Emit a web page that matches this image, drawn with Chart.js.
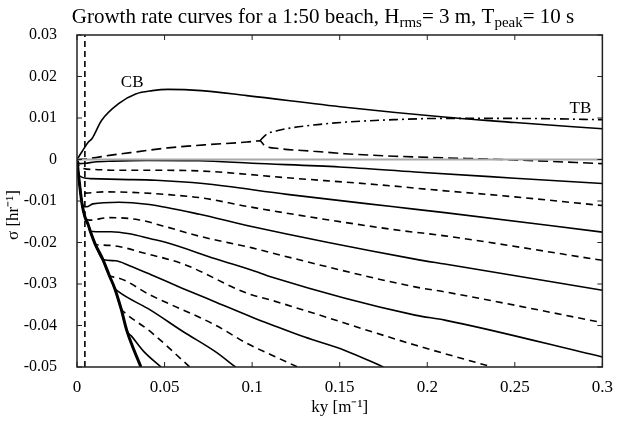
<!DOCTYPE html>
<html><head><meta charset="utf-8">
<script src="https://cdn.jsdelivr.net/npm/chart.js@4"></script>
<style>html,body{margin:0;padding:0;background:#fff}#wrap{width:623px;height:421px}</style>
</head><body><div id="wrap"><canvas id="c" width="623" height="421"></canvas></div>
<script>
// ---- tick values / labels ----
const xTicks = [0, 0.05, 0.1, 0.15, 0.2, 0.25, 0.3];
const xTickLabels = ['0', '0.05', '0.1', '0.15', '0.2', '0.25', '0.3'];
const yTicks = [0.03, 0.02, 0.01, 0, -0.01, -0.02, -0.03, -0.04, -0.05];
const yTickLabels = ['0.03', '0.02', '0.01', '0', '-0.01', '-0.02', '-0.03', '-0.04', '-0.05'];

// ---- curves: [ky, sigma] ----
const cb = [[0,0],[0.003,0.002],[0.0065,0.0042],[0.0085,0.005],[0.014,0.0094],[0.0242,0.0136],[0.0335,0.0158],[0.043,0.0166],[0.052,0.0169],[0.071,0.0166],[0.097,0.0154],[0.153,0.0126],[0.208,0.0103],[0.25,0.0089],[0.3,0.0074]];
const tb = [[0.1045,0.0045],[0.108,0.006],[0.116,0.0071],[0.135,0.0083],[0.153,0.009],[0.181,0.0096],[0.208,0.0099],[0.25,0.0099],[0.3,0.0096]];
const tbLow = [[0,0],[0.008,0.0003],[0.0185,0.001],[0.035,0.0019],[0.052,0.0028],[0.075,0.0036],[0.097,0.0042],[0.1045,0.0045],[0.107,0.0034],[0.116,0.0026],[0.135,0.002],[0.153,0.0014],[0.181,0.0008],[0.21,0.0004],[0.249,-0.0001],[0.3,-0.001]];
const zeroLine = [[0,0],[0.3,0]];
const vLine = [[0.0045,-0.05],[0.0045,0.03]];
const env = [[0,0],[0.0012,-0.005],[0.0028,-0.0105],[0.0045,-0.0138],[0.0064,-0.0157],[0.0076,-0.0173],[0.0105,-0.0205],[0.0148,-0.0241],[0.0185,-0.028],[0.0215,-0.031],[0.0252,-0.036],[0.0285,-0.0413],[0.0315,-0.0448],[0.0365,-0.05]];
const s1 = [[0,0],[0.0015,-0.001],[0.005,-0.0009],[0.01,-0.0006],[0.02,-0.0004],[0.04,-0.0002],[0.07,-0.0003],[0.1,-0.0009],[0.15,-0.0018],[0.193,-0.003],[0.25,-0.0045],[0.3,-0.0058]];
const d1 = [[0,0],[0.0015,-0.0018],[0.01,-0.0024],[0.022,-0.0026],[0.045,-0.0026],[0.072,-0.0028],[0.12,-0.0044],[0.181,-0.0064],[0.193,-0.0069],[0.25,-0.009],[0.3,-0.0111]];
const s2 = [[0,0],[0.001,-0.0038],[0.0073,-0.0046],[0.024,-0.0048],[0.045,-0.005],[0.072,-0.0058],[0.12,-0.0084],[0.181,-0.0114],[0.21,-0.0128],[0.3,-0.0175]];
const d2 = [[0,0],[0.0012,-0.005],[0.0025,-0.0078],[0.005,-0.0081],[0.015,-0.0078],[0.03,-0.0079],[0.05,-0.0084],[0.072,-0.0093],[0.097,-0.0113],[0.181,-0.0169],[0.21,-0.0184],[0.3,-0.0243]];
const s3 = [[0,0],[0.0012,-0.005],[0.0035,-0.0112],[0.0055,-0.0114],[0.009,-0.0107],[0.024,-0.0103],[0.04,-0.0108],[0.07,-0.0132],[0.097,-0.0159],[0.193,-0.024],[0.21,-0.0252],[0.3,-0.0315]];
const d3 = [[0,0],[0.0012,-0.005],[0.0028,-0.0105],[0.0045,-0.0138],[0.007,-0.0146],[0.0185,-0.014],[0.035,-0.0145],[0.049,-0.016],[0.07,-0.0185],[0.1,-0.0213],[0.111,-0.0225],[0.193,-0.0307],[0.21,-0.0319],[0.3,-0.0393]];
const s4Branch = [[0.011,-0.0174],[0.0195,-0.0174],[0.03,-0.0179],[0.042,-0.0191],[0.05,-0.0199],[0.079,-0.0239],[0.103,-0.0271],[0.111,-0.0283],[0.193,-0.0375],[0.21,-0.0387],[0.3,-0.0476]];
const d4Branch = [[0.0129,-0.0206],[0.0232,-0.0209],[0.037,-0.0224],[0.0607,-0.0252],[0.097,-0.0322],[0.111,-0.0339],[0.193,-0.0447],[0.237,-0.05]];
const s5Branch = [[0.022,-0.0244],[0.03,-0.0256],[0.042,-0.0277],[0.06,-0.031],[0.08,-0.0345],[0.1,-0.038],[0.111,-0.0398],[0.13,-0.0428],[0.153,-0.046],[0.175,-0.05]];
const d5Branch = [[0.0223,-0.0284],[0.042,-0.0327],[0.079,-0.0399],[0.097,-0.0443],[0.111,-0.0471],[0.126,-0.05]];
const s6Branch = [[0.0235,-0.0318],[0.042,-0.0363],[0.0607,-0.0415],[0.079,-0.0463],[0.0905,-0.05]];
const d6Branch = [[0.027,-0.0368],[0.042,-0.0415],[0.0644,-0.05]];
const s7Branch = [[0.031,-0.0425],[0.0382,-0.0463],[0.048,-0.05]];
// number of envelope points each lower curve shares before branching
const branchAt = {s4: 6, d4: 7, s5: 8, d5: 9, s6: 10, d6: 11, s7: 12};

// curve labels [text, ky, sigma]
const curveLabels = [['CB', 0.0315, 0.0186], ['TB', 0.2875, 0.0124]];

const FONT = "'Liberation Serif', 'Times New Roman', serif";
const pts = a => a.map(p => ({x: p[0], y: p[1]}));
const withEnv = (n, br) => env.slice(0, n).concat(br);

const DASH = [7, 5];
function ds(data, opt) {
  return Object.assign({
    data: pts(data), borderColor: '#000', borderWidth: 1.6, pointRadius: 0,
    fill: false, cubicInterpolationMode: 'monotone', borderDash: []
  }, opt || {});
}

const datasets = [
  ds(zeroLine, {borderColor: '#a8a8a8', borderWidth: 2, cubicInterpolationMode: 'default', tension: 0}),
  ds(vLine, {borderDash: [6, 4], cubicInterpolationMode: 'default', tension: 0}),
  ds(cb),
  ds(tbLow, {borderDash: [10, 5]}),
  ds(tb, {borderDash: [9, 4, 2, 4]}),
  ds(s1), ds(d1, {borderDash: DASH}), ds(s2), ds(d2, {borderDash: DASH}),
  ds(s3), ds(d3, {borderDash: DASH}),
  ds(withEnv(branchAt.s4, s4Branch)), ds(withEnv(branchAt.d4, d4Branch), {borderDash: DASH}),
  ds(withEnv(branchAt.s5, s5Branch)), ds(withEnv(branchAt.d5, d5Branch), {borderDash: DASH}),
  ds(withEnv(branchAt.s6, s6Branch)), ds(withEnv(branchAt.d6, d6Branch), {borderDash: DASH}),
  ds(withEnv(branchAt.s7, s7Branch)),
  ds(env, {borderWidth: 3})
];

const framePlugin = {
  id: 'frame',
  afterDatasetsDraw(chart) {
    const {ctx, chartArea: a, scales} = chart;
    ctx.save();
    ctx.strokeStyle = '#222';
    ctx.lineWidth = 1.5;
    ctx.strokeRect(a.left, a.top, a.right - a.left, a.bottom - a.top);
    const L = 5;
    ctx.beginPath();
    xTicks.forEach(v => {
      const px = scales.x.getPixelForValue(v);
      ctx.moveTo(px, a.bottom); ctx.lineTo(px, a.bottom - L);
      ctx.moveTo(px, a.top); ctx.lineTo(px, a.top + L);
    });
    yTicks.forEach(v => {
      const py = scales.y.getPixelForValue(v);
      ctx.moveTo(a.left, py); ctx.lineTo(a.left + L, py);
      ctx.moveTo(a.right, py); ctx.lineTo(a.right - L, py);
    });
    ctx.lineWidth = 1;
    ctx.stroke();
    // curve labels
    ctx.fillStyle = '#000';
    ctx.font = '17px ' + FONT;
    ctx.textAlign = 'center';
    ctx.textBaseline = 'middle';
    curveLabels.forEach(l => {
      ctx.fillText(l[0], scales.x.getPixelForValue(l[1]), scales.y.getPixelForValue(l[2]));
    });
    // y axis title
    ctx.save();
    ctx.translate(14, 215);
    ctx.rotate(-Math.PI / 2);
    ctx.font = '17px ' + FONT;
    ctx.fillText('σ [hr⁻¹]', 0, 0);
    ctx.restore();
    ctx.restore();
  }
};

const titlePlugin = {
  id: 'subTitle',
  afterDraw(chart) {
    const ctx = chart.ctx;
    const parts = [
      ['Growth rate curves for a 1:50 beach, H', 0], ['rms', 1], ['= 3 m, T', 0], ['peak', 1], ['= 10 s', 0]
    ];
    const big = '21px ' + FONT, small = '15px ' + FONT;
    ctx.save();
    let w = 0;
    parts.forEach(p => { ctx.font = p[1] ? small : big; w += ctx.measureText(p[0]).width; });
    let x = 323 - w / 2;
    const base = 23;
    ctx.fillStyle = '#000';
    ctx.textBaseline = 'alphabetic';
    ctx.textAlign = 'left';
    parts.forEach(p => {
      ctx.font = p[1] ? small : big;
      ctx.fillText(p[0], x, p[1] ? base + 4 : base);
      x += ctx.measureText(p[0]).width;
    });
    ctx.restore();
  }
};

new Chart(document.getElementById('c'), {
  type: 'line',
  data: {datasets},
  options: {
    responsive: false, animation: false, devicePixelRatio: 1,
    layout: {padding: {top: 35, right: 13, left: 0, bottom: 0}},
    plugins: {legend: {display: false}, title: {display: false}, tooltip: {enabled: false}},
    scales: {
      x: {
        type: 'linear', min: 0, max: 0.3,
        afterBuildTicks: s => { s.ticks = xTicks.map(v => ({value: v})); },
        afterFit: s => { s.height = 54; },
        grid: {display: false, drawTicks: false}, border: {display: false},
        ticks: {color: '#000', padding: 10, maxRotation: 0, font: {family: FONT, size: 17},
          callback: (v, i) => xTickLabels[i]},
        title: {display: true, text: 'ky [m⁻¹]', color: '#000', font: {family: FONT, size: 17}, padding: {top: 0, bottom: 3}}
      },
      y: {
        type: 'linear', min: -0.05, max: 0.03,
        afterBuildTicks: s => { s.ticks = yTicks.map(v => ({value: v})); },
        afterFit: s => { s.width = 77; },
        grid: {display: false, drawTicks: false}, border: {display: false},
        ticks: {color: '#000', padding: 20, font: {family: FONT, size: 16},
          callback: (v, i) => yTickLabels[i]},
        title: {display: false}
      }
    }
  },
  plugins: [framePlugin, titlePlugin]
});
</script>
</body></html>
